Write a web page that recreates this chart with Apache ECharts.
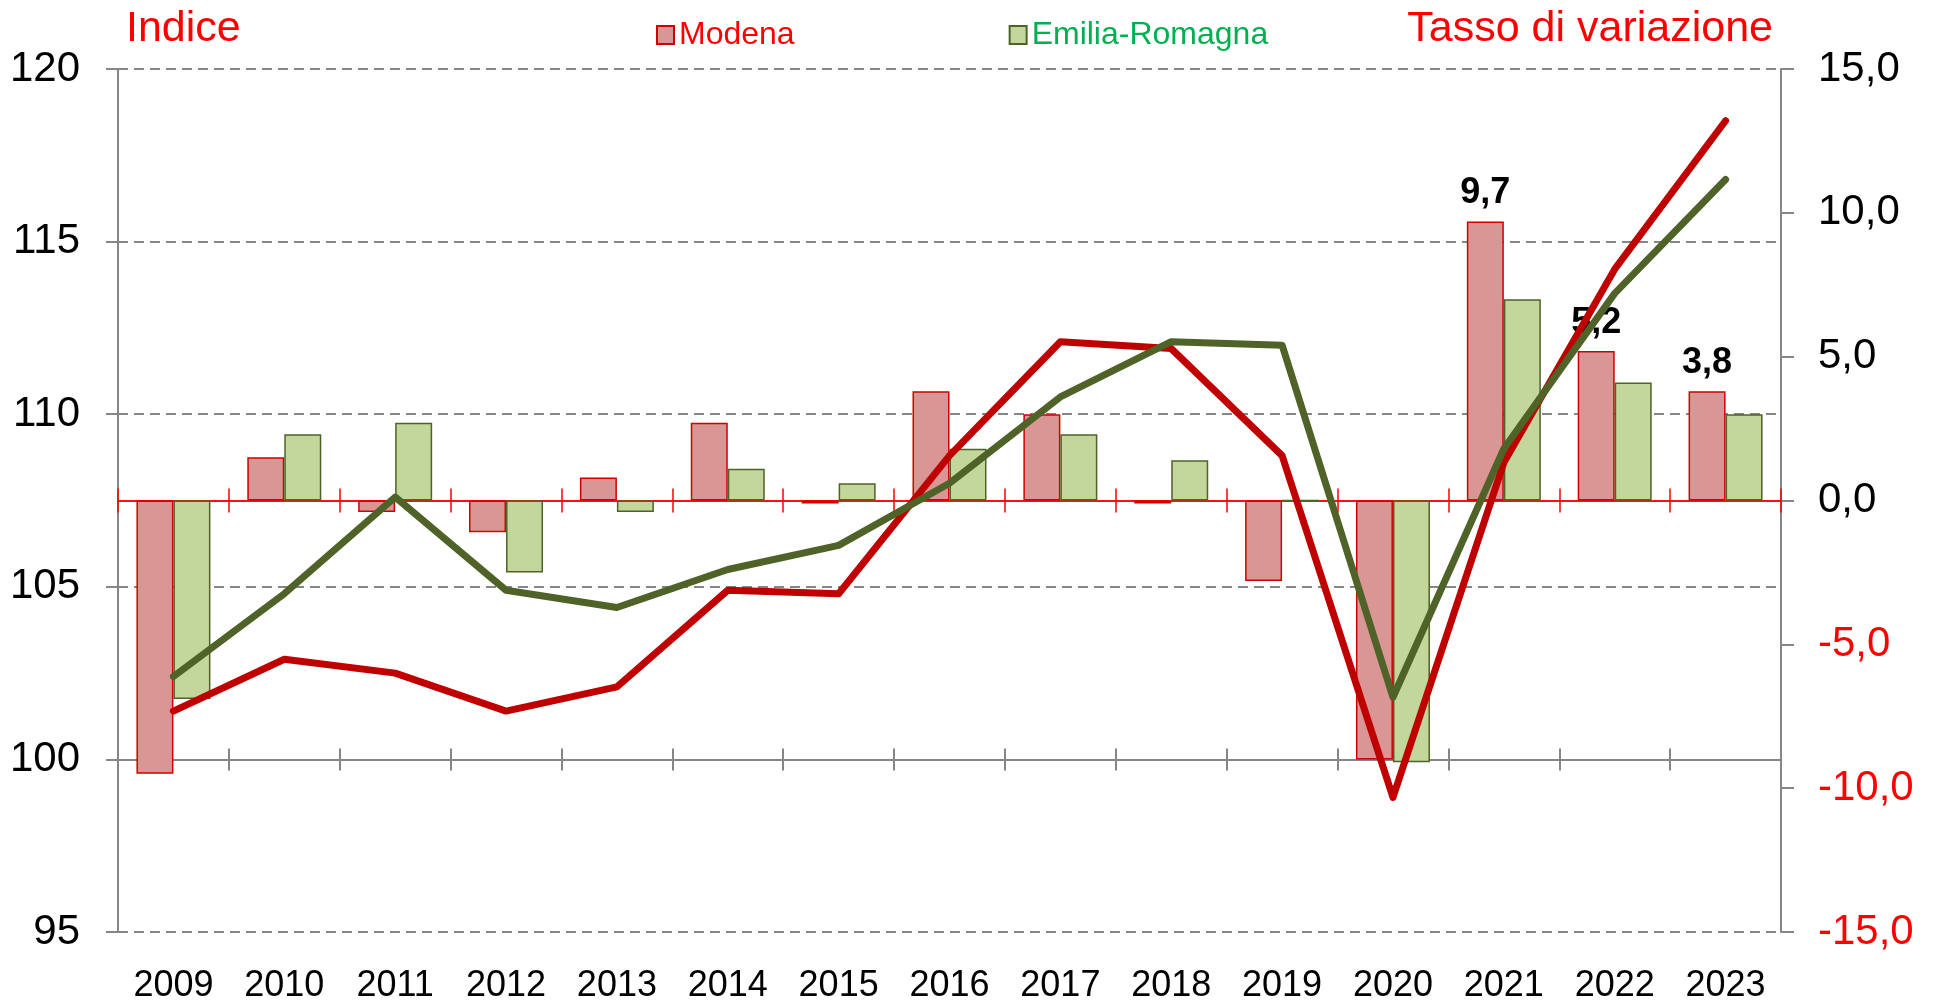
<!DOCTYPE html>
<html>
<head>
<meta charset="utf-8">
<script src="https://cdn.jsdelivr.net/npm/echarts@6/dist/echarts.min.js"></script>
<style>
html,body{margin:0;padding:0;background:#fff;}
#chart{width:1933px;height:1005px;}
</style>
</head>
<body>
<div id="chart"></div>
<script>
// ---- data ----
const years = ['2009','2010','2011','2012','2013','2014','2015','2016','2017','2018','2019','2020','2021','2022','2023'];
const modenaRate = [-9.5, 1.5, -0.4, -1.1, 0.8, 2.7, -0.1, 3.8, 3.0, -0.1, -2.8, -9.0, 9.7, 5.2, 3.8];
const emiliaRate = [-6.9, 2.3, 2.7, -2.5, -0.4, 1.1, 0.6, 1.8, 2.3, 1.4, 0.0, -9.1, 7.0, 4.1, 3.0];
const modenaIndex = [101.4, 102.9, 102.5, 101.4, 102.1, 104.9, 104.8, 108.8, 112.1, 111.9, 108.8, 98.9, 108.6, 114.2, 118.5];
const emiliaIndex = [102.4, 104.8, 107.6, 104.9, 104.4, 105.5, 106.2, 108.0, 110.5, 112.1, 112.0, 101.8, 109.0, 113.5, 116.8];
const labeledYears = ['2021','2022','2023'];

const FONT = '"Liberation Sans", Arial, sans-serif';
const fmt = v => Number(v).toFixed(1).replace('.', ',');

const modenaBarData = modenaRate.map((v, i) => labeledYears.includes(years[i])
  ? {value: v, label: {show: true}} : v);

function catAxis(extra) {
  return Object.assign({
    type: 'category', data: years, gridIndex: 0, position: 'bottom',
    axisLabel: {show: false}, splitLine: {show: false}
  }, extra);
}

const chart = echarts.init(document.getElementById('chart'), null, {renderer: 'canvas'});
chart.setOption({
  animation: false,
  backgroundColor: '#ffffff',
  textStyle: {fontFamily: FONT},
  title: [
    {text: 'Indice', left: 121, top: 3, textStyle: {color: '#FF0000', fontSize: 43, fontWeight: 'normal', fontFamily: FONT}},
    {text: 'Tasso di variazione', right: 155, top: 3, textStyle: {color: '#FF0000', fontSize: 43, fontWeight: 'normal', fontFamily: FONT}}
  ],
  legend: {
    left: 651, top: 14, itemWidth: 17, itemHeight: 18, itemGap: 214, icon: 'rect',
    textStyle: {fontSize: 32, fontFamily: FONT},
    itemStyle: {borderWidth: 2},
    data: [
      {name: 'Modena', textStyle: {color: '#FF0000'}},
      {name: 'Emilia-Romagna', textStyle: {color: '#00B050'}}
    ]
  },
  grid: {left: 118, right: 152, top: 69, bottom: 73},
  xAxis: [
    catAxis({axisLine: {show: false, onZero: false}, axisTick: {show: false},
      axisLabel: {show: true, color: '#000', fontSize: 36, margin: 36, fontFamily: FONT, interval: 0}}),
    catAxis({axisLine: {show: true, onZero: true, onZeroAxisIndex: 1, lineStyle: {color: '#FF0000', width: 1.5}},
      axisTick: {show: true, inside: false, length: 12, lineStyle: {color: '#FF0000', width: 1.5}}}),
    catAxis({axisLine: {show: true, onZero: true, onZeroAxisIndex: 1, lineStyle: {color: '#FF0000', width: 1.5}},
      axisTick: {show: true, inside: true, length: 12, lineStyle: {color: '#FF0000', width: 1.5}}}),
    catAxis({axisLine: {show: true, onZero: true, onZeroAxisIndex: 2, lineStyle: {color: '#868686', width: 2}},
      axisTick: {show: true, inside: false, length: 11, lineStyle: {color: '#868686', width: 2}}}),
    catAxis({axisLine: {show: true, onZero: true, onZeroAxisIndex: 2, lineStyle: {color: '#868686', width: 2}},
      axisTick: {show: true, inside: true, length: 11, lineStyle: {color: '#868686', width: 2}}})
  ],
  yAxis: [
    {type: 'value', position: 'left', min: 95, max: 120, interval: 5,
      axisLine: {show: true, lineStyle: {color: '#868686', width: 2}},
      axisTick: {show: true, length: 12, lineStyle: {color: '#868686', width: 2}},
      axisLabel: {color: '#000', fontSize: 42, margin: 38, fontFamily: FONT},
      splitLine: {show: true, lineStyle: {color: '#868686', width: 2, type: [10, 6]}}},
    {type: 'value', position: 'right', min: -15, max: 15, interval: 5,
      axisLine: {show: true, lineStyle: {color: '#868686', width: 2}},
      axisTick: {show: true, length: 13, lineStyle: {color: '#868686', width: 2}},
      axisLabel: {fontSize: 42, margin: 37, fontFamily: FONT, formatter: fmt,
        color: v => (Number(v) < 0 ? '#FF0000' : '#000000')},
      splitLine: {show: false}},
    {type: 'value', position: 'right', min: -5, max: 20, interval: 5, show: false,
      splitLine: {show: false}}
  ],
  series: [
    {name: 'Modena', type: 'bar', xAxisIndex: 0, yAxisIndex: 1, data: modenaBarData,
      barWidth: 37, barGap: '0%',
      itemStyle: {color: '#D99694', borderColor: '#D00000', borderWidth: 1.5},
      label: {show: false, position: 'top', distance: 10, formatter: p => fmt(p.value),
        color: '#000', fontSize: 36, fontWeight: 'bold', fontFamily: FONT}},
    {name: 'Emilia-Romagna', type: 'bar', xAxisIndex: 0, yAxisIndex: 1, data: emiliaRate,
      barWidth: 37, barGap: '0%',
      itemStyle: {color: '#C3D69B', borderColor: '#4F6228', borderWidth: 1.5}},
    {name: 'Modena (indice)', type: 'line', xAxisIndex: 0, yAxisIndex: 0, data: modenaIndex,
      symbol: 'none', z: 5, lineStyle: {color: '#C00000', width: 7, cap: 'round', join: 'round'}},
    {name: 'Emilia-Romagna (indice)', type: 'line', xAxisIndex: 0, yAxisIndex: 0, data: emiliaIndex,
      symbol: 'none', z: 6, lineStyle: {color: '#4F6228', width: 7, cap: 'round', join: 'round'}}
  ]
});
</script>
</body>
</html>
